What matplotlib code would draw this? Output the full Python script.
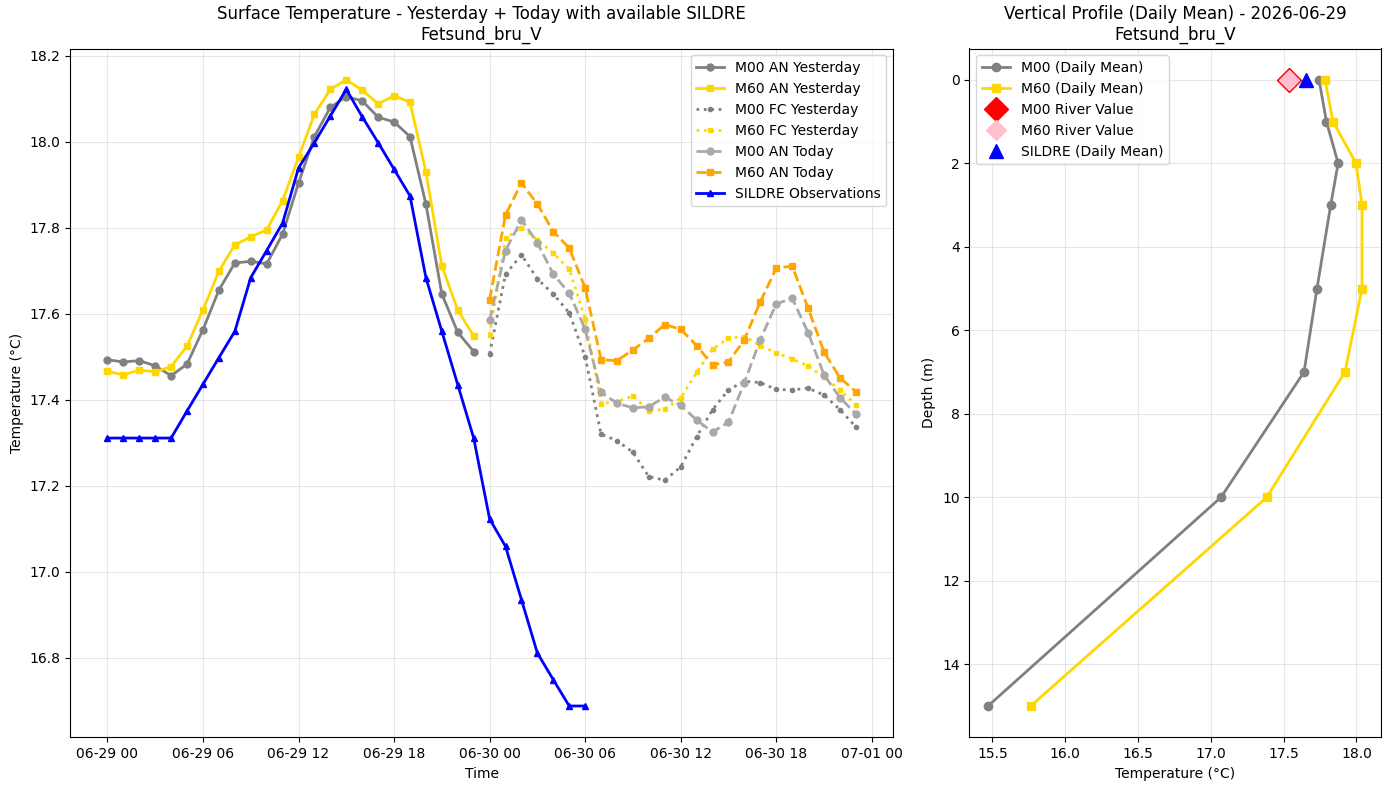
import numpy as np
import pandas as pd
import matplotlib
matplotlib.use("Agg")
import matplotlib.pyplot as plt
import matplotlib.dates as mdates

# ---------------- data ----------------
yesterday_times = pd.date_range("2026-06-29 00:00", periods=24, freq="h")
today_times = pd.date_range("2026-06-30 00:00", periods=24, freq="h")
sildre_times = pd.date_range("2026-06-29 00:00", periods=31, freq="h")

m00_an_yesterday = [17.493, 17.488, 17.491, 17.479, 17.456, 17.483, 17.563, 17.655,
                    17.718, 17.722, 17.716, 17.785, 17.904, 18.012, 18.080, 18.105,
                    18.095, 18.057, 18.046, 18.012, 17.855, 17.646, 17.557, 17.512]
m60_an_yesterday = [17.466, 17.458, 17.469, 17.465, 17.477, 17.525, 17.609, 17.699,
                    17.760, 17.779, 17.795, 17.863, 17.964, 18.064, 18.122, 18.144,
                    18.120, 18.088, 18.107, 18.092, 17.930, 17.711, 17.609, 17.548]
m00_fc_yesterday = [17.507, 17.692, 17.737, 17.681, 17.646, 17.602, 17.500, 17.320,
                    17.305, 17.278, 17.221, 17.213, 17.244, 17.314, 17.377, 17.423,
                    17.443, 17.440, 17.424, 17.423, 17.427, 17.411, 17.377, 17.337]
m60_fc_yesterday = [17.551, 17.776, 17.800, 17.772, 17.741, 17.704, 17.588, 17.391,
                    17.396, 17.409, 17.374, 17.378, 17.404, 17.464, 17.518, 17.543,
                    17.547, 17.526, 17.509, 17.495, 17.479, 17.452, 17.423, 17.388]
m00_an_today = [17.585, 17.747, 17.819, 17.765, 17.692, 17.648, 17.564, 17.417,
                17.392, 17.381, 17.384, 17.406, 17.387, 17.353, 17.325, 17.348,
                17.440, 17.540, 17.623, 17.636, 17.556, 17.458, 17.405, 17.367]
m60_an_today = [17.633, 17.830, 17.904, 17.855, 17.791, 17.753, 17.660, 17.493,
                17.491, 17.516, 17.543, 17.575, 17.564, 17.526, 17.481, 17.488,
                17.540, 17.628, 17.706, 17.711, 17.613, 17.511, 17.451, 17.419]
sildre_obs = [17.311, 17.311, 17.311, 17.311, 17.311, 17.374, 17.436, 17.498,
              17.559, 17.684, 17.747, 17.811, 17.939, 17.998, 18.060, 18.122,
              18.058, 17.998, 17.936, 17.874, 17.684, 17.559, 17.435, 17.311,
              17.123, 17.059, 16.935, 16.811, 16.749, 16.688, 16.688]

depths = [0, 1, 2, 3, 5, 7, 10, 15]
m00_profile = [17.743, 17.794, 17.874, 17.823, 17.729, 17.640, 17.070, 15.470]
m60_profile = [17.784, 17.839, 17.997, 18.038, 18.038, 17.921, 17.384, 15.763]
m00_river = 17.537
m60_river = 17.537
sildre_mean = 17.656
river_depth = 0

station = "Fetsund_bru_V"
profile_date = "2026-06-29"

# ---------------- plot ----------------
fig = plt.figure(figsize=(13.9, 7.9), dpi=100)
W, H = 1390.0, 790.0
ax1 = fig.add_axes([70 / W, 1 - 737.3 / H, (893.3 - 70) / W, (737.3 - 48.5) / H])
ax2 = fig.add_axes([969.3 / W, 1 - 737.3 / H, (1380.7 - 969.3) / W, (737.3 - 48.5) / H])

ax1.plot(yesterday_times, m00_an_yesterday, color="gray", marker="o", ms=5, lw=2,
         label="M00 AN Yesterday")
ax1.plot(yesterday_times, m60_an_yesterday, color="gold", marker="s", ms=5, lw=2,
         label="M60 AN Yesterday")
ax1.plot(today_times, m00_fc_yesterday, color="gray", marker="o", ms=3, lw=2,
         linestyle=":", label="M00 FC Yesterday")
ax1.plot(today_times, m60_fc_yesterday, color="gold", marker="s", ms=3, lw=2,
         linestyle=":", label="M60 FC Yesterday")
ax1.plot(today_times, m00_an_today, color="darkgray", marker="o", ms=5, lw=2,
         linestyle="--", label="M00 AN Today")
ax1.plot(today_times, m60_an_today, color="orange", marker="s", ms=5, lw=2,
         linestyle="--", label="M60 AN Today")
ax1.plot(sildre_times, sildre_obs, color="blue", marker="^", ms=5, lw=2,
         label="SILDRE Observations")

ax1.set_title(f"Surface Temperature - Yesterday + Today with available SILDRE\n{station}")
ax1.set_xlabel("Time")
ax1.set_ylabel("Temperature (°C)")
ax1.grid(True, alpha=0.3)
ax1.legend(loc="upper right")
ax1.xaxis.set_major_locator(mdates.HourLocator(byhour=[0, 6, 12, 18]))
ax1.xaxis.set_major_formatter(mdates.DateFormatter("%m-%d %H"))

ax2.plot(m00_profile, depths, color="gray", marker="o", ms=6, lw=2,
         label="M00 (Daily Mean)")
ax2.plot(m60_profile, depths, color="gold", marker="s", ms=6, lw=2,
         label="M60 (Daily Mean)")
ax2.plot([m00_river], [river_depth], linestyle="none", marker="D", ms=12,
         color="red", label="M00 River Value")
ax2.plot([m60_river], [river_depth], linestyle="none", marker="D", ms=10,
         color="pink", label="M60 River Value")
ax2.plot([sildre_mean], [river_depth], linestyle="none", marker="^", ms=10,
         color="blue", label="SILDRE (Daily Mean)")
ax2.invert_yaxis()
ax2.set_title(f"Vertical Profile (Daily Mean) - {profile_date}\n{station}")
ax2.set_xlabel("Temperature (°C)")
ax2.set_ylabel("Depth (m)")
ax2.grid(True, alpha=0.3)
ax2.legend(loc="upper left")

fig.savefig("out.png", dpi=100)
